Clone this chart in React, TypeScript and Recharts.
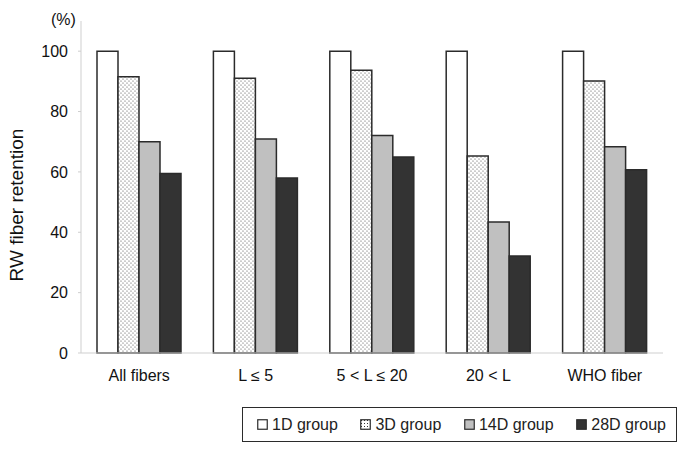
// RW fiber retention by fiber-length class, four recovery groups.

import { BarChart, Bar, XAxis, YAxis } from 'recharts';

// ─── Data ─────────────────────────────────────────────────────────────────────

const categories = ['All fibers', 'L ≤ 5', '5 < L ≤ 20', '20 < L', 'WHO fiber'];
const group1D  = [100, 100, 100, 100, 100];
const group3D  = [91.5, 91.0, 93.7, 65.3, 90.1];
const group14D = [70.0, 70.9, 72.1, 43.4, 68.3];
const group28D = [59.5, 58.0, 64.9, 32.1, 60.7];
const yTicks   = [0, 20, 40, 60, 80, 100];
const edgeTicks = [1, 2, 3, 4, 5];

const chartData = categories.map((name, i) => ({
  name,
  d1: group1D[i],
  d3: group3D[i],
  d14: group14D[i],
  d28: group28D[i],
}));

// ─── Styles ───────────────────────────────────────────────────────────────────

const FONT = '"Liberation Sans", Arial, sans-serif';
const EDGE = '#2b2b2b';
const AXIS = '#cfcfcf';

const series = [
  { key: 'd1',  label: '1D group',  fill: '#ffffff' },
  { key: 'd3',  label: '3D group',  fill: 'url(#dots)' },
  { key: 'd14', label: '14D group', fill: '#c0c0c0' },
  { key: 'd28', label: '28D group', fill: '#333333' },
];

function LegendBox() {
  return (
    <div
      style={{
        position: 'absolute',
        left: 242,
        top: 407,
        width: 435,
        height: 35,
        boxSizing: 'border-box',
        border: `1px solid ${EDGE}`,
        display: 'flex',
        alignItems: 'center',
        justifyContent: 'space-between',
        padding: '0 10px 0 14px',
        fontFamily: FONT,
        fontSize: 16,
        color: '#222',
      }}
    >
      {series.map((s) => (
        <div key={s.key} style={{ display: 'flex', alignItems: 'center' }}>
          <svg width={11} height={11} style={{ marginRight: 4 }}>
            <defs>
              <pattern id={`ldots-${s.key}`} width={3} height={3} patternUnits="userSpaceOnUse">
                <rect width={3} height={3} fill="#fff" />
                <rect x={1} y={1} width={1} height={1} fill="#333" />
              </pattern>
            </defs>
            <rect
              x={0.75}
              y={0.75}
              width={9.5}
              height={9.5}
              fill={s.key === 'd3' ? `url(#ldots-${s.key})` : s.fill}
              stroke={EDGE}
              strokeWidth={1.2}
            />
          </svg>
          <span>{s.label}</span>
        </div>
      ))}
    </div>
  );
}

function YTitle() {
  const cx = 16;
  const cy = 205;
  return (
    <text
      x={cx}
      y={cy}
      transform={`rotate(-90, ${cx}, ${cy})`}
      textAnchor="middle"
      dominantBaseline="central"
      fontFamily={FONT}
      fontSize={19}
      fill="#111"
    >
      RW fiber retention
    </text>
  );
}

export default function App() {
  return (
    <div style={{ position: 'relative', width: 685, height: 453, margin: -8, background: '#fff' }}>
      <BarChart
        width={685}
        height={453}
        data={chartData}
        margin={{ top: 21, right: 22, bottom: 70, left: 21 }}
        barCategoryGap={16}
        barGap={0}
      >
        <defs>
          <pattern id="dots" width={4} height={4} patternUnits="userSpaceOnUse">
            <rect width={4} height={4} fill="#ffffff" />
            <circle cx={1} cy={1} r={0.6} fill="#444" />
            <circle cx={3} cy={3} r={0.6} fill="#444" />
          </pattern>
        </defs>

        <XAxis
          dataKey="name"
          axisLine={{ stroke: AXIS }}
          tickLine={false}
          tickSize={0}
          tickMargin={17}
          height={30}
          tick={{ fill: '#111', fontSize: 16, fontFamily: FONT }}
        />
        <XAxis
          xAxisId="edges"
          type="number"
          domain={[0, 5]}
          ticks={edgeTicks}
          mirror
          height={0}
          axisLine={false}
          tickSize={5}
          tickLine={{ stroke: AXIS }}
          tickFormatter={() => ''}
        />

        <YAxis
          domain={[0, 110]}
          ticks={yTicks}
          width={60}
          axisLine={{ stroke: AXIS }}
          tickLine={{ stroke: AXIS }}
          tickSize={3}
          tickMargin={10}
          tick={{ fill: '#111', fontSize: 16, fontFamily: FONT }}
          label={<YTitle />}
        />

        {series.map((s) => (
          <Bar
            key={s.key}
            dataKey={s.key}
            fill={s.fill}
            stroke={EDGE}
            strokeWidth={1.5}
            isAnimationActive={false}
          />
        ))}
      </BarChart>

      <div
        style={{
          position: 'absolute',
          left: 51,
          top: 11,
          fontFamily: FONT,
          fontSize: 16,
          color: '#111',
        }}
      >
        (%)
      </div>

      <LegendBox />
    </div>
  );
}
